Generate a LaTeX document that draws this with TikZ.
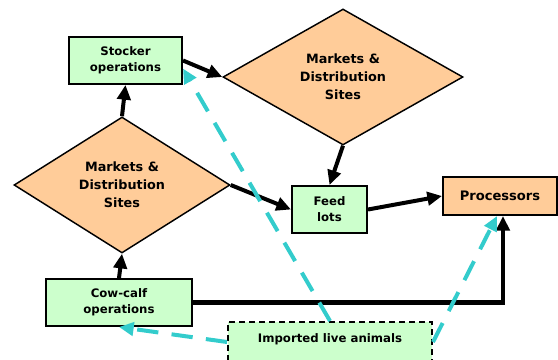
\documentclass[tikz,border=0pt]{standalone}
\usepackage{fontspec}
\setmainfont{DejaVu Sans}
\usetikzlibrary{shapes.geometric,arrows.meta}

\definecolor{boxgreen}{HTML}{CCFFCC}
\definecolor{mktorange}{HTML}{FFCC99}
\definecolor{importcyan}{HTML}{33CCCC}

\tikzset{
  opbox/.style={draw,line width=1.5pt,fill=boxgreen,align=center,inner sep=0pt,
    font=\fontsize{8.8}{12}\selectfont\bfseries},
  market/.style={diamond,draw,line width=1.1pt,fill=mktorange,align=center,inner sep=0pt,
    minimum width=162pt,minimum height=102pt,font=\fontsize{9.6}{13.5}\selectfont\bfseries},
  mainflow/.style={line width=3pt,-{Triangle[length=11pt,width=10pt]}},
  importflow/.style={importcyan,line width=3pt,dash pattern=on 16pt off 10pt,
    -{Triangle[length=11pt,width=10pt]}}
}

\begin{document}
\begin{tikzpicture}[x=0.75pt,y=-0.75pt]
\path[use as bounding box,clip] (0,0) rectangle (558,360);

\node[opbox,minimum width=84.75pt,minimum height=35.25pt] (st) at (125.5,60.5) {Stocker\\operations};
\node[market,minimum width=180pt] (m2) at (343,77) {Markets \&\\Distribution\\Sites};
\node[market] (m1) at (122,185) {Markets \&\\Distribution\\Sites};
\node[opbox,minimum width=56.25pt,minimum height=35.25pt] (fl) at (329.5,209.5) {Feed\\lots};
\node[opbox,fill=mktorange,minimum width=85.5pt,minimum height=28.5pt,
  font=\fontsize{9.8}{12}\selectfont\bfseries] (pr) at (500,196) {Processors};
\node[opbox,minimum width=109.5pt,minimum height=35.25pt] (cc) at (119,302.5) {Cow-calf\\operations};
% box runs off the lower edge, so text is pinned near its top
\node[opbox,dash pattern=on 4.5pt off 3pt,anchor=north,minimum width=153pt,
  inner ysep=4pt,text height=11pt,text depth=40pt] (im) at (330,321) {Imported live animals};

\path[mainflow] (cc.north) edge (m1.south)
                (m1.north) edge (st.south)
                (st.east) edge (m2.west)
                (m2.south) edge (fl.north)
                (m1.east) edge (fl.west)
                (fl.east) edge (pr.west);
\draw[mainflow] (cc.east) -| ([xshift=2.25pt]pr.south);

\path[importflow] (im.base west) edge (cc.south)
                  (im.north) edge (st.-8)
                  (im.base east) edge ([xshift=-2.25pt]pr.south);
\end{tikzpicture}
\end{document}
